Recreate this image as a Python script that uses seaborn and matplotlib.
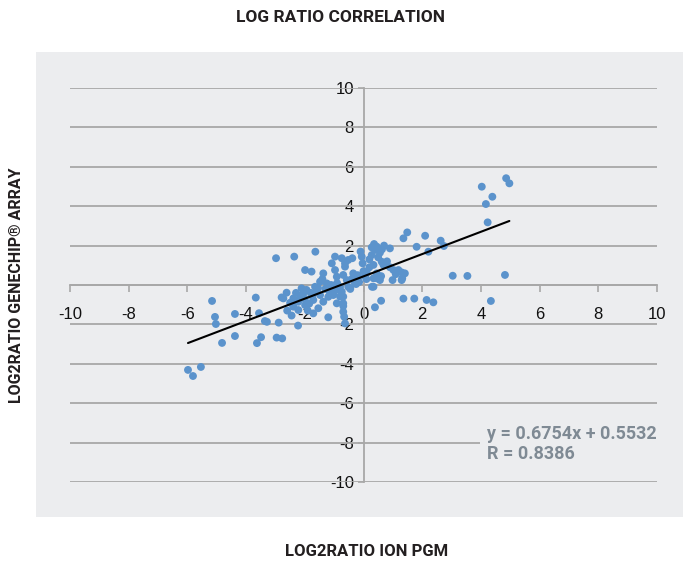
import matplotlib
matplotlib.use("Agg")
import matplotlib.pyplot as plt
import seaborn as sns
import pandas as pd
from matplotlib.patches import Rectangle

# log2 ratios
ion_pgm = [
    -5.98, -5.81, -5.54, -5.16, -5.06, -5.03, -4.38, -4.82, -4.38,
    -3.67, -3.56, -3.36, -3.29, -3.49, -3.63,
    -2.98, -2.36, -1.64, -0.97, -0.38,
    -2.89, -2.96, -2.77, -2.79, -2.62, -2.23,
    -1.99, -1.77, -1.20, -0.69, -0.66, -0.69,
    0.29, 0.39, 0.60, 1.36, 1.73, 2.15,
    1.49, 1.36, 2.10, 1.81, 2.21,
    0.36, 0.28, 0.63, 0.90, 0.56,
    0.99, 1.32, 1.30, 0.45, 0.56,
    4.03, 4.86, 4.97, 4.39, 4.17, 4.23,
    2.63, 2.74, 3.04, 3.54, 4.82, 2.38, 4.34,
    0.39, 0.28, 0.62, -0.06, -0.03, -0.63, 0.34, 0.68, 0.90, 1.02, 1.19,
    1.41, 0.11, 0.45, -0.18, -0.35, 0.34, 1.30, -0.69, -0.29, -0.52, 0.34,
    -0.74, -0.69, -0.69,
    -1.37, -1.08, -0.97, -1.48, -1.25, -1.65, -1.94, -2.11, -2.05, -2.73,
    -2.39, -2.22, -2.39, -2.22, -1.99, -1.71, -1.48, -1.37, -1.54, -1.71,
    -1.03, -0.80, -0.91, -0.63, -0.80, -0.57, -0.91, -0.63, -0.52, -0.74,
    -1.80, -1.60, -1.30, -1.10, -0.90, -0.40, -0.20, 0.00, 0.20, -1.20,
    -2.50, -2.60, -2.00, -1.90, 0.10, 0.20, -0.10, 0.80, -1.40, 0.70,
    0.45, 0.50, -2.45, -0.30, -1.00, -1.75, -2.30, 0.05, -0.45, -1.15,
    -1.55, -0.85, -0.15, 0.60, 1.10, -2.15, -1.85, -0.25,
]
genechip = [
    -4.31, -4.62, -4.16, -0.81, -1.62, -1.98, -1.47, -2.94, -2.59,
    -0.64, -1.43, -1.83, -1.87, -2.65, -2.95,
    1.36, 1.44, 1.69, 1.44, 1.36,
    -1.91, -2.67, -2.71, -0.63, -0.39, -2.06,
    0.76, 0.68, -1.64, -1.07, -1.61, -0.59,
    -0.09, -1.13, -0.80, -0.69, -0.69, -0.76,
    2.67, 2.37, 2.50, 1.94, 1.69,
    2.08, 1.91, 1.81, 1.86, 1.64,
    0.25, 0.34, 0.64, 0.34, 0.25,
    4.99, 5.42, 5.16, 4.48, 4.11, 3.18,
    2.25, 1.98, 0.47, 0.46, 0.51, -0.88, -0.81,
    1.78, 1.52, 1.18, 1.44, 1.10, 1.10, 1.02, 1.02, 0.90, 0.76, 0.76,
    0.59, 0.62, 0.59, 0.42, 0.59, 0.34, 0.25, 0.51, 0.08, -0.09, -0.09,
    -0.34, -0.93, -1.36,
    0.59, 1.10, 0.76, 0.17, 0.08, -0.09, -0.25, -0.17, -0.42, -0.68,
    -0.68, -0.85, -1.10, -1.27, -1.02, -0.76, -0.51, -0.85, -1.18, -1.44,
    -0.51, -0.59, -0.93, -1.95, -0.09, 0.25, 0.42, 0.93, 1.27, 1.36,
    -0.40, -0.30, -0.20, 0.00, 0.10, 0.30, 0.50, 0.70, 0.90, -0.60,
    -0.90, -1.30, -0.70, -1.30, 0.30, 1.30, 1.70, 1.20, 0.30, 2.00,
    1.95, 1.40, -1.55, 0.20, -0.30, -0.55, -0.40, 0.45, -0.20, -0.35,
    -0.15, -0.25, 0.15, 0.45, 0.55, -0.55, -0.95, 0.05,
]

y_ticks = list(range(-10, 11, 2))
fit_label = "y = 0.6754x + 0.5532\nR = 0.8386"

df = pd.DataFrame({"ion_pgm": ion_pgm, "genechip": genechip})

sns.set_theme(style="white")
plt.rcParams["font.family"] = ["Liberation Sans", "DejaVu Sans"]
plt.rcParams["axes.unicode_minus"] = False

BG = "#ECEDEF"
GRID = "#A8A8A8"
DOT = "#5B93CC"
LABEL_FONT = ["Roboto", "Liberation Sans", "DejaVu Sans"]

fig = plt.figure(figsize=(6.83, 5.62), dpi=100)
fig.patches.append(Rectangle((36 / 683, 45 / 562), 647 / 683, 465 / 562,
                             transform=fig.transFigure, facecolor=BG,
                             edgecolor="none", zorder=-5))

ax = fig.add_axes([70 / 683, 80 / 562, 587 / 683, 394 / 562])
ax.set_facecolor("none")

sns.regplot(data=df, x="ion_pgm", y="genechip", ax=ax, ci=None, truncate=True,
            scatter_kws={"s": 32, "color": DOT, "edgecolor": "none", "alpha": 1, "zorder": 3},
            line_kws={"color": "black", "linewidth": 1.5, "zorder": 4})

ax.set_xlim(-10, 10)
ax.set_ylim(-10, 10)
ax.set_xticks(y_ticks)
ax.set_yticks(y_ticks)
ax.set_xlabel("")
ax.set_ylabel("")

for y in y_ticks:
    ax.axhline(y, color=GRID, linewidth=1.3, zorder=1)

ax.spines["left"].set_position(("data", 0))
ax.spines["bottom"].set_position(("data", 0))
ax.spines["top"].set_visible(False)
ax.spines["right"].set_visible(False)
for s in ("left", "bottom"):
    ax.spines[s].set_color(GRID)
    ax.spines[s].set_linewidth(1.3)
    ax.spines[s].set_zorder(1)

ax.tick_params(axis="x", direction="out", length=5, width=1.2, color=GRID,
               pad=11, labelsize=12, labelcolor="#111111", bottom=True)
ax.tick_params(axis="y", direction="out", length=4, width=1.2, color=GRID,
               pad=3, labelsize=12, labelcolor="#111111", left=True)

ax.text(4.21, -8.07, fit_label, color="#7F8A94", fontsize=13,
        fontweight="bold", family=LABEL_FONT, ha="left", va="center",
        linespacing=1.1, zorder=5,
        bbox=dict(facecolor=BG, edgecolor="none", pad=5))

fig.text(341 / 683, 1 - 18 / 562, "LOG RATIO CORRELATION", ha="center",
         va="center", fontsize=12.5, fontweight="bold", color="#231F20",
         family=LABEL_FONT)
fig.text(367 / 683, 1 - 551 / 562, "LOG2RATIO ION PGM", ha="center",
         va="center", fontsize=12, fontweight="bold", color="#231F20",
         family=LABEL_FONT)
fig.text(17 / 683, 1 - 285 / 562, "LOG2RATIO GENECHIP® ARRAY", ha="center",
         va="center", rotation=90, fontsize=11.5, fontweight="bold",
         color="#231F20", family=LABEL_FONT)

fig.savefig("out.png", dpi=100)
